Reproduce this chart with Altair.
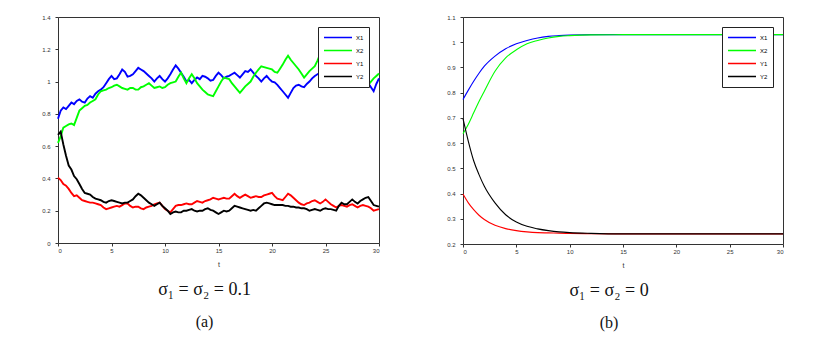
import altair as alt
import pandas as pd

# ---------------- panel (a): sigma1 = sigma2 = 0.1 (values every 0.25 in t) ----------------
x1_a = [0.770, 0.820, 0.840, 0.830, 0.850, 0.870, 0.860, 0.880, 0.890, 0.875,
        0.870, 0.895, 0.910, 0.900, 0.925, 0.940, 0.950, 0.965, 0.990, 1.015,
        1.035, 1.015, 1.020, 1.045, 1.075, 1.060, 1.030, 1.035, 1.045, 1.065,
        1.085, 1.075, 1.065, 1.050, 1.035, 1.020, 1.000, 1.020, 1.035, 1.015,
        1.000, 1.020, 1.045, 1.075, 1.100, 1.080, 1.055, 1.030, 1.000, 1.010,
        0.990, 1.010, 1.025, 1.015, 1.035, 1.030, 1.020, 1.005, 1.010, 1.035,
        1.055, 1.040, 1.020, 1.030, 1.035, 1.045, 1.055, 1.040, 1.025, 1.045,
        1.065, 1.060, 1.075, 1.055, 1.035, 1.020, 1.000, 1.020, 1.035, 1.015,
        1.000, 0.995, 0.980, 0.960, 0.940, 0.920, 0.900, 0.930, 0.960, 0.975,
        0.980, 0.970, 0.965, 0.985, 1.000, 1.020, 1.035, 1.045, 1.055, 1.065,
        1.075, 1.070, 1.060, 1.040, 1.025, 1.010, 1.000, 1.005, 0.990, 0.995,
        0.980, 0.990, 0.985, 0.975, 0.970, 0.985, 0.990, 0.965, 0.940, 0.985,
        1.020]
x2_a = [0.620, 0.660, 0.715, 0.725, 0.735, 0.740, 0.730, 0.775, 0.820, 0.835,
        0.850, 0.855, 0.870, 0.880, 0.890, 0.920, 0.940, 0.945, 0.950, 0.960,
        0.965, 0.975, 0.980, 0.970, 0.960, 0.955, 0.950, 0.960, 0.960, 0.950,
        0.950, 0.965, 0.970, 0.980, 0.990, 0.975, 0.960, 0.965, 0.970, 0.960,
        0.965, 0.980, 0.990, 0.995, 1.000, 1.030, 1.055, 1.020, 0.990, 1.020,
        1.045, 1.020, 0.990, 0.970, 0.950, 0.935, 0.920, 0.915, 0.910, 0.940,
        0.970, 1.000, 1.025, 1.020, 1.015, 0.990, 0.970, 0.950, 0.930, 0.950,
        0.970, 0.985, 1.000, 1.030, 1.055, 1.075, 1.095, 1.090, 1.085, 1.080,
        1.075, 1.060, 1.055, 1.080, 1.105, 1.135, 1.160, 1.135, 1.115, 1.095,
        1.075, 1.050, 1.025, 1.045, 1.065, 1.080, 1.095, 1.130, 1.170, 1.150,
        1.140, 1.130, 1.120, 1.090, 1.055, 1.060, 1.060, 1.050, 1.040, 1.030,
        1.025, 1.030, 1.035, 1.015, 1.000, 0.990, 0.980, 1.000, 1.020, 1.035,
        1.050]
y1_a = [0.405, 0.390, 0.365, 0.355, 0.335, 0.310, 0.290, 0.295, 0.280, 0.265,
        0.260, 0.255, 0.250, 0.250, 0.245, 0.240, 0.235, 0.220, 0.210, 0.215,
        0.220, 0.225, 0.230, 0.225, 0.235, 0.245, 0.245, 0.230, 0.220, 0.225,
        0.225, 0.215, 0.210, 0.220, 0.225, 0.230, 0.240, 0.245, 0.250, 0.230,
        0.210, 0.200, 0.190, 0.210, 0.230, 0.235, 0.235, 0.240, 0.245, 0.240,
        0.240, 0.250, 0.260, 0.255, 0.250, 0.260, 0.265, 0.270, 0.280, 0.275,
        0.270, 0.275, 0.280, 0.275, 0.275, 0.290, 0.305, 0.290, 0.280, 0.290,
        0.300, 0.290, 0.280, 0.285, 0.290, 0.285, 0.285, 0.295, 0.300, 0.305,
        0.310, 0.290, 0.275, 0.270, 0.265, 0.285, 0.305, 0.295, 0.280, 0.265,
        0.250, 0.240, 0.235, 0.245, 0.250, 0.260, 0.265, 0.255, 0.245, 0.255,
        0.270, 0.255, 0.240, 0.230, 0.220, 0.230, 0.235, 0.230, 0.225, 0.235,
        0.240, 0.230, 0.220, 0.230, 0.235, 0.230, 0.225, 0.215, 0.200, 0.205,
        0.210]
y2_a = [0.670, 0.690, 0.610, 0.540, 0.480, 0.455, 0.415, 0.395, 0.365, 0.335,
        0.310, 0.305, 0.300, 0.285, 0.275, 0.270, 0.265, 0.255, 0.250, 0.260,
        0.265, 0.260, 0.255, 0.250, 0.245, 0.250, 0.250, 0.260, 0.270, 0.290,
        0.305, 0.295, 0.280, 0.265, 0.250, 0.240, 0.230, 0.240, 0.250, 0.230,
        0.215, 0.200, 0.180, 0.190, 0.195, 0.190, 0.190, 0.200, 0.200, 0.205,
        0.210, 0.200, 0.195, 0.200, 0.200, 0.210, 0.215, 0.205, 0.200, 0.190,
        0.180, 0.190, 0.200, 0.195, 0.200, 0.215, 0.230, 0.225, 0.220, 0.215,
        0.210, 0.205, 0.200, 0.205, 0.200, 0.215, 0.230, 0.245, 0.250, 0.245,
        0.240, 0.235, 0.235, 0.235, 0.235, 0.230, 0.230, 0.225, 0.225, 0.220,
        0.220, 0.215, 0.215, 0.210, 0.200, 0.205, 0.210, 0.205, 0.200, 0.210,
        0.215, 0.210, 0.210, 0.205, 0.200, 0.230, 0.250, 0.240, 0.240, 0.255,
        0.270, 0.255, 0.245, 0.260, 0.270, 0.280, 0.285, 0.260, 0.235, 0.230,
        0.225]
t_a = [i * 0.25 for i in range(len(x1_a))]

# ---------------- panel (b): sigma1 = sigma2 = 0 ----------------
t_b = [0, 0.5, 1, 1.5, 2, 3, 4, 5, 6, 7, 8, 9, 10, 12, 15, 20, 25, 30]
x1_b = [0.773, 0.810, 0.845, 0.877, 0.905, 0.945, 0.974, 0.994, 1.007, 1.017,
        1.023, 1.026, 1.028, 1.030, 1.030, 1.030, 1.030, 1.030]
x2_b = [0.637, 0.675, 0.720, 0.765, 0.806, 0.885, 0.938, 0.970, 0.994, 1.007,
        1.017, 1.023, 1.026, 1.029, 1.030, 1.030, 1.030, 1.030]
y1_b = [0.398, 0.363, 0.336, 0.314, 0.297, 0.274, 0.261, 0.253, 0.248, 0.245,
        0.244, 0.243, 0.242, 0.241, 0.240, 0.240, 0.240, 0.240]
y2_b = [0.697, 0.607, 0.530, 0.475, 0.429, 0.363, 0.316, 0.287, 0.270, 0.260,
        0.253, 0.248, 0.245, 0.242, 0.240, 0.240, 0.240, 0.240]

series_names = ["X1", "X2", "Y1", "Y2"]
series_colors = ["#0000ff", "#00ff00", "#ff0000", "#000000"]
x_ticks = [0, 5, 10, 15, 20, 25, 30]
y_ticks_a = [0, 0.2, 0.4, 0.6, 0.8, 1, 1.2, 1.4]
y_ticks_b = [0.2, 0.3, 0.4, 0.5, 0.6, 0.7, 0.8, 0.9, 1, 1.1]
captions = ["σ₁ = σ₂ = 0.1", "σ₁ = σ₂ = 0"]
sublabels = ["(a)", "(b)"]


def long_frame(t, cols):
    rows = []
    for name, vals in zip(series_names, cols):
        for tt, v in zip(t, vals):
            rows.append({"t": tt, "v": v, "s": name})
    return pd.DataFrame(rows)


df_a = long_frame(t_a, [x1_a, x2_a, y1_a, y2_a])
df_b = long_frame(t_b, [x1_b, x2_b, y1_b, y2_b])

LABEL_FONT = "Liberation Sans"
CAP_FONT = "Liberation Serif, DejaVu Serif"


def panel(df, ydom, yticks, width, height, sw, interp, caption, sub, yext):
    return alt.Chart(df).mark_line(strokeWidth=sw, interpolate=interp).encode(
        x=alt.X("t:Q", scale=alt.Scale(domain=[0, 30], nice=False),
                axis=alt.Axis(values=x_ticks, title="t", titleFontSize=7,
                              titleFontWeight="normal", titleFont=LABEL_FONT,
                              titleColor="#333", titlePadding=7,
                              labelPadding=1, tickSize=3)),
        y=alt.Y("v:Q", scale=alt.Scale(domain=ydom, nice=False, zero=False),
                axis=alt.Axis(values=yticks, format="~g", title=None,
                              labelPadding=5, tickSize=3, minExtent=yext)),
        color=alt.Color("s:N",
                        scale=alt.Scale(domain=series_names, range=series_colors),
                        legend=alt.Legend(orient="top-right", offset=10, title=None,
                                          symbolType="stroke", symbolSize=784,
                                          symbolStrokeWidth=1.5, clipHeight=11,
                                          labelFontSize=6, labelFont=LABEL_FONT,
                                          labelOffset=3, padding=5,
                                          fillColor="white", strokeColor="#222")),
    ).properties(
        width=width, height=height,
        title=alt.TitleParams(text=caption, subtitle=sub, orient="bottom",
                              anchor="middle", frame="group", dx=-14,
                              font=CAP_FONT, fontSize=18, fontWeight="normal",
                              color="#111", offset=14,
                              subtitleFont=CAP_FONT, subtitleFontSize=16,
                              subtitleColor="#111", subtitlePadding=15),
    )


left = panel(df_a, [0, 1.4], y_ticks_a, 321, 226, 1.9, "linear",
             captions[0], sublabels[0], 49)
right = panel(df_b, [0.2, 1.1], y_ticks_b, 320, 227, 1.1, "monotone",
              captions[1], sublabels[1], 40)

chart = alt.hconcat(left, right, spacing=38).resolve_scale(
    color="independent"
).resolve_legend(
    color="independent"
).properties(
    padding={"left": 0, "top": 5, "right": 0, "bottom": 0}
).configure_view(
    stroke="#333", strokeWidth=1
).configure_axis(
    grid=False, domain=False, labelFont=LABEL_FONT, labelFontSize=6,
    labelColor="#333", tickColor="#333"
)

chart.save("out.html", embed_options={"renderer": "svg", "actions": False})
